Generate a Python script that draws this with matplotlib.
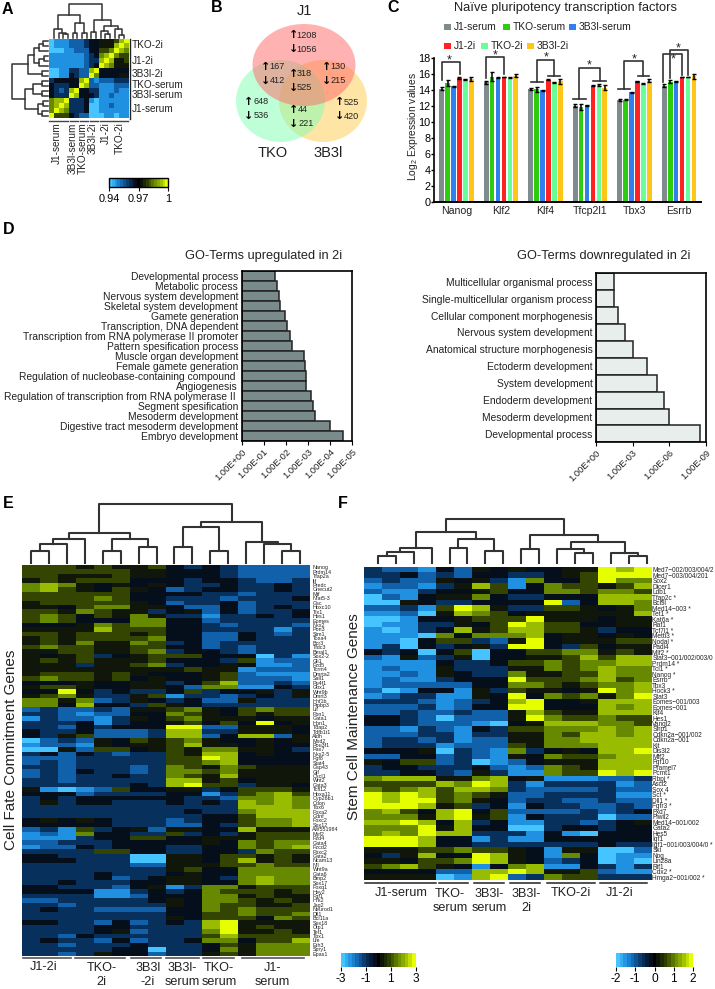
#!/usr/bin/env python
import numpy as np
from matplotlib import pyplot as plt
from matplotlib.patches import Ellipse, Rectangle
from matplotlib.colors import LinearSegmentedColormap, Normalize
from matplotlib.cm import ScalarMappable

plt.rcParams.update({
    "font.family": ["Liberation Sans", "DejaVu Sans"],
    "font.size": 8,
    "mathtext.default": "regular",
    "axes.linewidth": 1.0})

W, H = 715, 989

# ---------------------------------------------------------------------------- #
# Data. Heatmap rows hold one level per cell,
# 0 = full blue, 4/5 = nearly black, 9 = full yellow.
# ---------------------------------------------------------------------------- #

# panel A, sample correlation
corr_rows = [
    "0111222344555689", "0111222344555898", "0001122244667987",
    "1111111234789766", "1111111233898556", "1111111234987555",
    "0011332289444444", "0011432297444455", "3444448921222333",
    "4333449822111222", "4323894433111211", "4333984443112111",
    "7889333410111111", "7898333400112111", "7987333400111111",
    "9666432200011011"]
corr_row_groups = ["TKO-2i", "J1-2i", "3B3l-2i", "TKO-serum", "3B3l-serum", "J1-serum"]
corr_col_groups = ["J1-serum", "3B3l-serum", "TKO-serum", "3B3l-2i", "J1-2i", "TKO-2i"]

# panel B
venn_names = ["J1", "TKO", "3B3l"]
venn_up = [1208, 167, 130, 318, 648, 525, 44]
venn_down = [1056, 412, 215, 525, 536, 420, 221]

# panel C
genes = ["Nanog", "Klf2", "Klf4", "Tfcp2l1", "Tbx3", "Esrrb"]
conditions = ["J1-serum", "TKO-serum", "3B3l-serum", "J1-2i", "TKO-2i", "3B3l-2i"]
cond_colors = ["#7F8C8D", "#2ECC0E", "#2F7FEE", "#FF2222", "#66FF99", "#FFC61A"]
expr = [[14.2, 14.9, 14.5, 15.55, 15.35, 15.4],
        [15.0, 15.7, 15.55, 15.65, 15.6, 15.8],
        [14.15, 14.15, 14.0, 15.3, 15.0, 15.1],
        [12.1, 11.9, 12.15, 14.6, 14.65, 14.3],
        [12.8, 12.85, 13.75, 15.1, 14.8, 15.2],
        [14.6, 15.05, 15.1, 15.65, 15.65, 15.75]]
expr_err = [[0.2, 0.4, 0.05, 0.1, 0.1, 0.3],
            [0.2, 0.6, 0.05, 0.05, 0.05, 0.2],
            [0.1, 0.3, 0.05, 0.05, 0.05, 0.3],
            [0.2, 0.4, 0.05, 0.05, 0.1, 0.3],
            [0.1, 0.1, 0.05, 0.1, 0.05, 0.2],
            [0.15, 0.2, 0.05, 0.05, 0.05, 0.3]]

# panel D
up_terms = ["Developmental process", "Metabolic process", "Nervous system development",
            "Skeletal system development", "Gamete generation", "Transcription, DNA dependent",
            "Transcription from RNA polymerase II promoter", "Pattern spesification process",
            "Muscle organ development", "Female gamete generation",
            "Regulation of nucleobase-containing compound ", "Angiogenesis",
            "Regulation of transcription from RNA polymerase II ", "Segment spesification",
            "Mesoderm development", "Digestive tract mesoderm development", "Embryo development"]
up_pvals = [3.0e-2, 2.6e-2, 2.1e-2, 1.9e-2, 1.1e-2, 8.9e-3, 6.2e-3, 5.0e-3, 1.5e-3,
            1.3e-3, 1.2e-3, 1.2e-3, 7.2e-4, 5.8e-4, 4.7e-4, 9.5e-5, 2.4e-5]
up_ticks = [1, 1e-1, 1e-2, 1e-3, 1e-4, 1e-5]
up_ticklabels = ["1.00E+00", "1.00E-01", "1.00E-02", "1.00E-03", "1.00E-04", "1.00E-05"]

down_terms = ["Multicellular organismal process", "Single-multicellular organism process",
              "Cellular component morphogenesis", "Nervous system development",
              "Anatomical structure morphogenesis", "Ectoderm development", "System development",
              "Endoderm development", "Mesoderm development", "Developmental process"]
down_pvals = [3.2e-2, 3.2e-2, 1.6e-2, 4e-3, 1e-3, 6.3e-5, 1.1e-5, 3e-6, 1e-6, 3e-9]
down_ticks = [1, 1e-3, 1e-6, 1e-9]
down_ticklabels = ["1.00E+00", "1.00E-03", "1.00E-06", "1.00E-09"]

# panel E
fate_genes = ["Nanog", "Prdm14", "Tfap2a", "lif", "Predc", "Onecut2", "Mif", "Nfat5-3", "Gsc",
              "Hoxc10", "Tlx1", "Hes1", "Eomes", "Nkx2", "Pon3", "Stm1", "Tcea4", "Bcr3", "Tfdc3",
              "Bmal1", "Sox2-2", "Gli1", "Fzd5", "Tcrm4", "Dmrta2", "Sall1", "Pu4f1", "Gbx1",
              "Wnt9b", "Dmrt3", "Hnf1b", "Pipbp3", "Lif", "Fbn1", "Gata1", "Hpn1", "Tdap2",
              "Tdfb1t1", "Aldh", "Mxd2", "Pou3f1", "Pax7", "Nkx2-5", "Fgf8", "Stat4", "Gsp43",
              "Gjf", "Cxcl1", "Wnt2", "Gata3", "Tcfl12", "Hoxa11", "Cyp26b1", "Cdon", "Tbx6",
              "Foxa2", "Gdnf", "Foxc2", "Sox12", "AW551984", "Myf2", "Fzd4", "Gata4", "Fzcd2",
              "Fbxc2", "Gata2", "Ncam13", "Nfl", "Wnt9a", "Gata6", "Bmp2", "Sox17", "Foxq1", "Hey2",
              "Fgf1", "Hrk2", "Jag2", "Neurod1", "Dll1", "Bcl11a", "Sox18", "Otp1", "Tef1", "Tbx1",
              "Lfe", "Erh3", "Spry1", "Epas1"]
fate_rows = [
    "6665655643432222", "6666665544432222", "6655565544432222", "5656664443443223",
    "7875454543343343", "7865465423443343", "6666664444332333", "6666764433323334",
    "5666665423342333", "5546775542242343", "6657655345242334", "6764657533133434",
    "6764447744233333", "4445767744323332", "5555866644333313", "6656665644224323",
    "5656666744224333", "5657557634233333", "6766556644232333", "5566556734432333",
    "5456345666444031", "5656555644436122", "5553556734454112", "5555555556551222",
    "5666565444562111", "6766564544562221", "4445445534682232", "5665445542771143",
    "4494343346344535", "5675335613323435", "7757235434225333", "7748443654333333",
    "2322325567546766", "3321224476546566", "1322135467555455", "3334134456464945",
    "3324344499225554", "4334222388335554", "4356222388248825", "0232546567544545",
    "1221545568554544", "0052664565775543", "3424323365884544", "2223333366984444",
    "2323333366784444", "3323332376576555", "2324332377675555", "2323343376585555",
    "3323333388564555", "3333334389663554", "5101264455346665", "4442333344136786",
    "3434444443327787", "3534433343438787", "3333333333338887", "3333333334337888",
    "3333333333446888", "4545433323446778", "4444433322436778", "2316345255448555",
    "1217443363435666", "1113446644555666", "2233344444547677", "1224344433447678",
    "3333664433443766", "4433330055466565", "4443330055468565", "3333332255566766",
    "3333333356447777", "3333433345447777", "3333423455437877", "3343334455447877",
    "4433324513775666", "4444113434766656", "3333112444775655", "2233333454776565",
    "3323333354766556", "3433222244767666", "3333333344667667", "3333333354666476",
    "4433242343895555", "3333443333895655", "3333452333795565", "3324333333686666",
    "3433242334774668", "3323334333465777", "3333344033475777", "3323544233565777"]
fate_groups = ["J1-2i", "TKO-\n2i", "3B3l\n-2i", "3B3l-\nserum", "TKO-\nserum", "J1-\nserum"]

# panel F
stem_genes = ["Med7\u2212002/003/004/2", "Med7\u2212003/004/201", "Sox2", "Dicer1", "Ldb1", "Tfap2c *",
              "Bcl9l", "Med14\u2212003 *", "Tet1 *", "Kat6a *", "Raf1", "Tcf7l1 *", "Mettl3 *",
              "Nodal *", "Padi4", "Mlf2 *", "Stat3\u2212001/002/003/0", "Prdm14 *", "Tcl1 *",
              "Nanog *", "Esrrb", "Tbx3", "Hock3 *", "Stat3", "Eomes\u2212001/003", "Eomes\u2212001",
              "Klf4", "Hes1", "Vangl2", "Sfrp1", "Cdkn2a\u2212001/002", "Cdkn2a\u2212001", "Kit",
              "Dis3l2", "Mff2", "Fgf10", "Pramel7", "Pcmt1", "Rbpj *", "Ascl2", "Sox 4", "Sct *",
              "Dll1 *", "Fgfr3 *", "Fxd7", "Piwil2", "Med14\u2212001/002", "Gata2", "Hes5", "Igf1",
              "Igf1\u2212001/003/004/0 *", "Ski", "Nog", "Lin28a", "Rif1", "Cdx2 *", "Hmga2\u2212001/002 *"]
stem_rows = [
    "3221425454455989", "3342324433456999", "2322545317446977", "1221358614766568",
    "2113445644776776", "0214557433444888", "0054334444924887", "2231698533665457",
    "1120587645555558", "0014456669555455", "0113354698664455", "1013485688665344",
    "1110747778455454", "1104663259455566", "1304345399436455", "4340460446677565",
    "2152350445568688", "1111433466767788", "1211533355767877", "1121543375566877",
    "1211344496667867", "1222224477656778", "2014415365545978", "1233115494767579",
    "3332123489445888", "2223124499444878", "2232232258655888", "4432022259766766",
    "4432221045888776", "2213214366777878", "2223313355768878", "2332312255778888",
    "2333122265777888", "4445032173454889", "2244232154766788", "5466230124555888",
    "3443334212765888", "3344325311766989", "7888557845111223", "6666879831333312",
    "7678688732222322", "9898676522333311", "9899675423322322", "9998563414332232",
    "7864894622223234", "7775895614333022", "8898483411332345", "7779584400344344",
    "7879883331410444", "9998441311444444", "9998443333333433", "5556676654155002",
    "4358449854174011", "5546679854234010", "6786541478114313", "4444228898556211",
    "5555018923766333"]
stem_groups = ["J1-serum", "TKO-\nserum", "3B3l-\nserum", "3B3l-\n2i", "TKO-2i", "J1-2i"]

# dendrograms as (height, left, right), leaves are column/row numbers
corr_top_tree = (105, (70, (28, 0, (16, 1, (12, 2, 3))), (45, (16, 4, 5), (16, 6, 7))),
                 (56, (18, 8, 9), (38, (22, 10, (12, 11, 12)), (28, 13, (10, 14, 15)))))
corr_side_tree = (105, (58, (40, (25, (13, 0, 1), 2), (25, (12, 3, 4), 5)), (18, 6, 7)),
                  (68, (43, (18, 8, 9), (18, 10, 11)), (28, (14, 12, 13), (18, 14, 15))))
fate_tree = (176, (90, (71, (56, (36, 0, 1), 2), 3), (71, (36, 4, 5), (48, 6, 7))),
             (122, (108, (48, 8, 9), (36, 10, 11)), (61, 12, (55, 13, (36, 14, 15)))))
stem_tree = (130, (93, (45, (33, (21, 0, 1), 2), 3), (71, (45, 4, 5), (36, 6, 7))),
             (84, (42, 8, 9), (63, (40, 10, (28, 11, 12)), (30, 13, (21, 14, 15)))))

# ---------------------------------------------------------------------------- #

anchors = [(0, "#45C4FF"), (1/9, "#2090E0"), (2/9, "#1060A8"), (3/9, "#08305C"), (4/9, "#050F1C"),
           (0.5, "#000000"), (5/9, "#10160A"), (6/9, "#334500"), (7/9, "#668800"), (8/9, "#99BB00"),
           (1, "#E6FF00")]
cmap = LinearSegmentedColormap.from_list("bky", anchors, N=256)
key_cmap = LinearSegmentedColormap.from_list("bky_steps", anchors, N=21)


def decode(rows, vmin, vmax):
    return np.array([[int(c) for c in r] for r in rows]) / 9 * (vmax - vmin) + vmin


def px_axes(x0, y0, x1, y1):
    return fig.add_axes([x0/W, 1 - y1/H, (x1 - x0)/W, (y1 - y0)/H])


def draw_tree(ax, node, side=False, lw=1.1):
    # returns leaf position and height of the node
    if not isinstance(node, tuple):
        return node, 0
    h, left, right = node
    pl, hl = draw_tree(ax, left, side, lw)
    pr, hr = draw_tree(ax, right, side, lw)
    xs, ys = [pl, pl, pr, pr], [hl, h, h, hr]
    if side:
        xs, ys = ys, xs
    ax.plot(xs, ys, color="#333333", lw=lw, solid_capstyle="projecting", clip_on=False)
    return (pl + pr)/2, h


def tree_axes(x0, y0, x1, y1, tree, nleaf, side=False, lw=1.1):
    a = px_axes(x0, y0, x1, y1)
    draw_tree(a, tree, side, lw)
    if side:
        a.set_xlim(tree[0], 0)
        a.set_ylim(nleaf - 1, 0)
    else:
        a.set_xlim(0, nleaf - 1)
        a.set_ylim(0, tree[0])
    a.axis("off")
    return a


def heat_axes(x0, y0, x1, y1, data, vmin, vmax, labels=None, fs=4.0, pad=2):
    a = px_axes(x0, y0, x1, y1)
    a.imshow(data, cmap=cmap, vmin=vmin, vmax=vmax, aspect="auto", interpolation="nearest")
    a.set_xticks([])
    if labels is None:
        a.set_yticks([])
    else:
        a.yaxis.tick_right()
        a.set_yticks(np.arange(len(labels)))
        a.set_yticklabels(labels, fontsize=fs, color="#222222")
        a.tick_params(axis="y", length=0, pad=pad)
    for s in a.spines.values():
        s.set_visible(False)
    return a


def color_key(x0, y0, x1, y1, vmin, vmax, ticks, ticklabels, outline=False, fs=8.6):
    a = px_axes(x0, y0, x1, y1)
    cb = fig.colorbar(ScalarMappable(Normalize(vmin, vmax), key_cmap), cax=a, orientation="horizontal")
    cb.set_ticks(ticks)
    cb.set_ticklabels(ticklabels)
    cb.ax.tick_params(length=3, width=0.8, pad=1.5, labelsize=fs)
    cb.outline.set_visible(outline)
    return cb


def go_bars(x0, y0, x1, y1, terms, pvals, ticks, ticklabels, fill):
    a = px_axes(x0, y0, x1, y1)
    y = np.arange(len(terms))
    a.barh(y, np.array(pvals) - 1, left=1, height=1.0, color=fill, edgecolor="#222222", lw=1.1)
    a.set_xscale("log")
    a.set_xlim(ticks[0], ticks[-1])
    a.set_ylim(len(terms) - 0.5, -0.5)
    a.set_yticks(y)
    a.set_yticklabels(terms, fontsize=7.4, color="#222222")
    a.set_xticks(ticks)
    a.set_xticklabels(ticklabels, fontsize=6.7, rotation=45, ha="right", rotation_mode="anchor", color="#222222")
    a.minorticks_off()
    a.tick_params(axis="y", length=0, pad=2.5)
    a.tick_params(axis="x", length=3, width=0.8, pad=1.5)
    for s in a.spines.values():
        s.set_linewidth(1.2)
    return a


fig = plt.figure(figsize=(W/100, H/100), dpi=100)

# overlay in picture pixels for labels, brackets and the Venn diagram
ov = fig.add_axes([0, 0, 1, 1], zorder=5)
ov.set_xlim(0, W)
ov.set_ylim(H, 0)
ov.axis("off")
ov.patch.set_alpha(0)

for letter, lx, ly in [("A", 2, 9), ("B", 211, 8), ("C", 387, 8), ("D", 3, 230), ("E", 3, 504), ("F", 338, 504)]:
    ov.text(lx, ly, letter, fontsize=11.5, fontweight="bold", ha="left", va="center")

# ---- A ----
ax_a = heat_axes(49, 39, 128.5, 118.5, decode(corr_rows, 0.94, 1), 0.94, 1)
tree_axes(54, 4.3, 124, 37.7, corr_top_tree, 16)
tree_axes(12.5, 41.5, 47.6, 116, corr_side_tree, 16, side=True)

row_spans = [(39, 53.5), (54.5, 68.5), (69.5, 78.5), (80, 88.5), (90, 99), (100, 118.5)]
row_text_y = [45, 61, 74, 84.5, 95, 108.7]
for name, (s0, s1), ty in zip(corr_row_groups, row_spans, row_text_y):
    ov.plot([129.5, 129.5], [s0, s1], color="#222222", lw=1)
    ov.text(131.5, ty, name, fontsize=7.2, va="center", color="#222222")
col_spans = [(49, 68.3), (69.7, 78.3), (79.5, 87.5), (89.5, 97.5), (99.5, 112.7), (114, 127.7)]
col_text_x = [56.5, 72.5, 82.7, 92.5, 106, 120]
for name, (s0, s1), tx in zip(corr_col_groups, col_spans, col_text_x):
    ov.plot([s0, s1], [120.8, 120.8], color="#444444", lw=1)
    ov.text(tx, 122.5, name, fontsize=7.2, rotation=90, ha="center", va="top", color="#222222")
color_key(109, 177.7, 168.3, 187.3, 0.94, 1, [0.94, 0.97, 1], ["0.94", "0.97", "1"], outline=True, fs=7.9)

# ---- B ----
ov.add_patch(Ellipse((323, 101), 88, 82, color="#FFCD4D", alpha=0.5, lw=0))
ov.add_patch(Ellipse((280.5, 101), 89, 82, color="#7FFFB3", alpha=0.5, lw=0))
ov.add_patch(Ellipse((304, 65), 103, 82, color="#FF6767", alpha=0.5, lw=0))
ov.text(304, 11, venn_names[0], fontsize=10.5, ha="center", va="center", color="#222222")
ov.text(273, 153, venn_names[1], fontsize=10.5, ha="center", va="center", color="#222222")
ov.text(328, 153, venn_names[2], fontsize=10.5, ha="center", va="center", color="#222222")
venn_spots = [(293.3, 35), (265.7, 66.7), (326.7, 66.7), (293.3, 74), (248.7, 101.7), (339.7, 102.3), (293.3, 110)]
venn_gaps = [3.5, 3.7, 4, 3.5, 5.3, 4, 4.7]
for (vx, vy), gap, u, d in zip(venn_spots, venn_gaps, venn_up, venn_down):
    ov.text(vx, vy, "\u2191", fontsize=8, fontweight="bold", ha="center", va="center", family="DejaVu Sans")
    ov.text(vx + gap, vy, str(u), fontsize=6.6, ha="left", va="center", color="#222222")
    ov.text(vx, vy + 14, "\u2193", fontsize=8, fontweight="bold", ha="center", va="center", family="DejaVu Sans")
    ov.text(vx + gap, vy + 14, str(d), fontsize=6.6, ha="left", va="center", color="#222222")

# ---- C ----
ax_c = px_axes(434, 58.3, 701, 202.3)
expr_arr = np.array(expr)
err_arr = np.array(expr_err)
for i, name in enumerate(conditions):
    pos = np.arange(len(genes))*7.5 + i
    ax_c.bar(pos, expr_arr[:, i], width=0.8, color=cond_colors[i], label=name)
    ax_c.errorbar(pos, expr_arr[:, i], yerr=err_arr[:, i], fmt="none", ecolor="black", elinewidth=1.1, capsize=1.2, capthick=1)
ax_c.set_xlim(-1.29, 43.7)
ax_c.set_ylim(0, 18)
ax_c.set_yticks(np.arange(0, 19, 2))
ax_c.set_xticks(np.arange(len(genes))*7.5 + 2.5)
ax_c.set_xticklabels(genes, fontsize=7.6, color="#222222")
ax_c.tick_params(axis="y", length=2, width=1, pad=0.6, labelsize=7.8)
ax_c.tick_params(axis="x", length=0, pad=3)
ax_c.spines["top"].set_visible(False)
ax_c.spines["right"].set_visible(False)
ax_c.spines["left"].set_linewidth(1.2)
ax_c.spines["bottom"].set_linewidth(1.4)
ov.text(413, 126, "Log$_2$ Expression values", fontsize=7.4, rotation=90, ha="center", va="center", color="#222222")
ov.text(565, 8.3, "Na\u00efve pluripotency transcription factors", fontsize=9.3, ha="center", va="center", color="#222222")

legend_spots = [(444.3, 27), (503, 27), (568.7, 27), (444, 46), (481, 46), (527, 46)]
for (lx, ly), name, col in zip(legend_spots, conditions, cond_colors):
    ov.add_patch(Rectangle((lx, ly - 3), 7, 6, color=col, lw=0))
    ov.text(lx + 9.5, ly, name, fontsize=7.4, va="center", color="#222222")


def zc(pts):
    # bracket points as read on the 3x crop of panel C
    xy = np.array(pts, dtype=float)/3
    ov.plot(xy[:, 0] + 380, xy[:, 1], color="#333333", lw=1.2)


zc([(185, 240), (185, 186), (239, 186), (239, 222)])
zc([(317, 235), (317, 172), (372, 172), (372, 222)])
zc([(452, 245), (488, 245)])
zc([(470, 245), (470, 181), (523, 181), (523, 229)])
zc([(505, 229), (541, 229)])
zc([(579, 297), (617, 297)])
zc([(598, 297), (598, 204), (659, 204), (659, 243)])
zc([(640, 243), (677, 243)])
zc([(714, 267), (751, 267)])
zc([(733, 267), (733, 184), (790, 184), (790, 227)])
zc([(774, 227), (808, 227)])
zc([(850, 245), (850, 161), (905, 161), (905, 225)])
zc([(870, 235), (870, 150), (924, 150), (924, 225)])
for sx, sy in [(209, 182), (347, 167), (498, 171), (627, 197), (763, 177), (880, 177), (896, 146)]:
    ov.text(380 + sx/3, sy/3, "*", fontsize=9, ha="center", va="center", color="#222222")

# ---- D ----
go_bars(241.7, 271, 351.7, 441, up_terms, up_pvals, up_ticks, up_ticklabels, "#7A8B8B")
ov.text(263.5, 255.7, "GO-Terms upregulated in 2i", fontsize=9.2, ha="center", va="center", color="#222222")
go_bars(596, 273.3, 706, 442.3, down_terms, down_pvals, down_ticks, down_ticklabels, "#E8EEEB")
ov.text(603.7, 255.7, "GO-Terms downregulated in 2i", fontsize=9.2, ha="center", va="center", color="#222222")

# ---- E ----
heat_axes(21.7, 565, 309, 956, decode(fate_rows, -3, 3), -3, 3, fate_genes, fs=3.9, pad=2.5)
tree_axes(31, 504, 300, 562.7, fate_tree, 16, lw=1.5)
ov.text(11, 750, "Cell Fate Commitment Genes", fontsize=11, rotation=90, ha="center", va="center", color="#222222")
fate_spans = [(23.3, 70.7), (75.3, 125), (130.7, 160.7), (165.7, 199), (203.3, 234.3), (241.7, 304)]
fate_text_x = [43.5, 101.7, 147.7, 182.3, 219.3, 272.7]
for name, (s0, s1), tx in zip(fate_groups, fate_spans, fate_text_x):
    ov.plot([s0, s1], [957.8, 957.8], color="#555555", lw=1.2)
    if "\n" in name:
        ov.text(tx, 975, name, fontsize=9.1, ha="center", va="center", linespacing=1.25, color="#222222")
    else:
        ov.text(tx, 967, name, fontsize=9.1, ha="center", va="center", color="#222222")
color_key(341, 953, 415.6, 967, -3, 3, [-3, -1, 1, 3], ["-3", "-1", "1", "3"])

# ---- F ----
heat_axes(364, 567, 651, 880, decode(stem_rows, -2, 2), -2, 2, stem_genes, fs=4.7, pad=1)
tree_axes(377.7, 519.3, 647, 562.7, stem_tree, 16, lw=1.5)
ov.text(354, 717, "Stem Cell Maintenance Genes", fontsize=11, rotation=90, ha="center", va="center", color="#222222")
stem_spans = [(365, 436), (438.7, 468.3), (474, 504), (510, 540), (547.3, 594.7), (600, 647.3)]
stem_text_x = [400.7, 450, 489, 526.7, 570.7, 620]
for name, (s0, s1), tx in zip(stem_groups, stem_spans, stem_text_x):
    ov.plot([s0, s1], [882.8, 882.8], color="#222222", lw=1.1)
    if "\n" in name:
        ov.text(tx, 901, name, fontsize=9.1, ha="center", va="center", linespacing=1.25, color="#222222")
    else:
        ov.text(tx, 893.5, name, fontsize=9.1, ha="center", va="center", color="#222222")
color_key(616, 953, 693, 967, -2, 2, [-2, -1, 0, 1, 2], ["-2", "-1", "0", "1", "2"])

fig.savefig("out.png", dpi=100)
